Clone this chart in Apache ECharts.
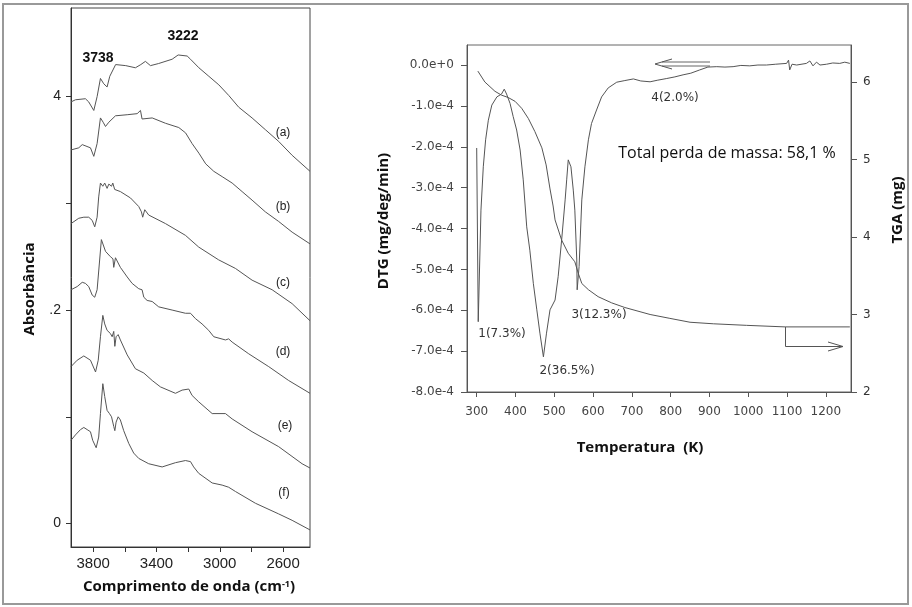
<!DOCTYPE html>
<html><head><meta charset="utf-8">
<script src="https://cdn.jsdelivr.net/npm/echarts@6/dist/echarts.min.js"></script>
<style>html,body{margin:0;padding:0;background:#fff}#c{width:912px;height:607px}</style>
</head><body><div id="c"></div>
<script>
// ---- Left panel: IR spectra [wavenumber cm-1, absorbance] ----
const specA = [[3940,3.95],[3912,3.97],[3849,3.98],[3828,3.95],[3796,3.87],[3775,4.00],[3754,4.17],[3733,4.12],[3712,4.09],[3695,4.19],[3658,4.30],[3594,4.29],[3533,4.27],[3499,4.30],[3470,4.33],[3438,4.29],[3386,4.31],[3301,4.35],[3263,4.39],[3206,4.38],[3185,4.35],[3132,4.27],[3069,4.19],[3006,4.11],[2943,4.01],[2880,3.90],[2796,3.80],[2712,3.69],[2628,3.58],[2543,3.45],[2430,3.30]];
const specB = [[3940,3.50],[3891,3.52],[3869,3.55],[3817,3.52],[3796,3.44],[3775,3.56],[3754,3.80],[3737,3.76],[3722,3.72],[3701,3.76],[3659,3.82],[3585,3.83],[3522,3.84],[3501,3.87],[3491,3.79],[3427,3.80],[3343,3.75],[3259,3.71],[3216,3.66],[3175,3.56],[3132,3.47],[3089,3.37],[3038,3.30],[2985,3.25],[2922,3.19],[2859,3.11],[2796,3.03],[2712,2.92],[2628,2.83],[2543,2.73],[2430,2.62]];
const specC = [[3940,2.81],[3891,2.86],[3859,2.87],[3828,2.87],[3806,2.84],[3790,2.78],[3775,2.87],[3765,3.06],[3754,3.19],[3739,3.16],[3727,3.19],[3712,3.14],[3701,3.18],[3684,3.16],[3676,3.19],[3664,3.13],[3628,3.11],[3564,3.05],[3512,2.97],[3495,2.92],[3487,2.87],[3474,2.94],[3449,2.89],[3343,2.81],[3217,2.70],[3133,2.59],[3007,2.47],[2901,2.39],[2796,2.28],[2669,2.19],[2543,2.06],[2430,1.90]];
const specD = [[3940,2.19],[3901,2.22],[3869,2.26],[3849,2.25],[3828,2.22],[3806,2.14],[3790,2.12],[3775,2.19],[3748,2.66],[3722,2.55],[3691,2.50],[3675,2.48],[3670,2.40],[3659,2.49],[3628,2.40],[3585,2.31],[3554,2.25],[3512,2.20],[3491,2.19],[3480,2.12],[3459,2.09],[3427,2.08],[3386,2.03],[3301,2.00],[3217,1.97],[3185,1.97],[3154,1.92],[3112,1.87],[3070,1.81],[3038,1.75],[2964,1.72],[2944,1.73],[2922,1.70],[2817,1.59],[2691,1.47],[2565,1.34],[2430,1.22]];
const specE = [[3940,1.47],[3901,1.53],[3859,1.57],[3817,1.53],[3785,1.42],[3768,1.53],[3754,1.75],[3739,1.95],[3727,1.87],[3712,1.81],[3691,1.78],[3680,1.75],[3670,1.80],[3663,1.66],[3655,1.75],[3642,1.77],[3628,1.72],[3585,1.58],[3533,1.45],[3480,1.41],[3427,1.34],[3375,1.28],[3280,1.22],[3238,1.25],[3196,1.26],[3175,1.20],[3133,1.14],[3048,1.03],[2964,1.03],[2922,0.98],[2796,0.86],[2628,0.72],[2480,0.56],[2430,0.52]];
const specF = [[3940,0.78],[3912,0.83],[3880,0.88],[3859,0.90],[3838,0.88],[3817,0.86],[3803,0.78],[3781,0.71],[3765,0.81],[3754,1.03],[3739,1.31],[3727,1.19],[3712,1.06],[3697,1.03],[3684,1.00],[3670,0.91],[3663,0.87],[3655,0.95],[3642,1.00],[3628,0.97],[3607,0.87],[3575,0.75],[3544,0.66],[3512,0.61],[3449,0.56],[3364,0.53],[3280,0.57],[3217,0.59],[3185,0.58],[3165,0.53],[3133,0.47],[3048,0.38],[2985,0.36],[2944,0.34],[2901,0.30],[2775,0.19],[2628,0.09],[2543,0.03],[2430,-0.06]];
const irTicks = [2600,2800,3000,3200,3400,3600,3800];
const irLabels = [2600,3000,3400,3800];
const absTicks = [0,1,2,3,4];
const absLabels = [0,2,4];
const absLabelText = {0:'0',2:'.2',4:'4'};
const specNames = ['(a)','(b)','(c)','(d)','(e)','(f)'];
const peakLabels = ['3738','3222'];

// ---- Right panel: DTG [K, mg/deg/min] and TGA [K, mg] ----
const dtg = [[300,-2.03e-4],[304,-6.28e-4],[311,-3.55e-4],[317,-2.49e-4],[323,-1.83e-4],[330,-1.35e-4],[339,-0.98e-4],[352,-0.78e-4],[364,-0.71e-4],[371,-0.59e-4],[377,-0.71e-4],[386,-0.94e-4],[394,-1.26e-4],[403,-1.59e-4],[412,-2.08e-4],[420,-2.81e-4],[429,-3.96e-4],[437,-4.53e-4],[446,-5.34e-4],[455,-5.99e-4],[463,-6.56e-4],[472,-7.14e-4],[480,-6.56e-4],[489,-5.99e-4],[502,-5.75e-4],[510,-5.18e-4],[519,-4.28e-4],[528,-3.30e-4],[532,-2.81e-4],[536,-2.32e-4],[543,-2.49e-4],[549,-3.06e-4],[553,-3.55e-4],[558,-4.77e-4],[559,-5.50e-4],[564,-4.93e-4],[571,-3.30e-4],[579,-2.49e-4],[588,-1.83e-4],[596,-1.43e-4],[609,-1.10e-4],[622,-0.78e-4],[639,-0.56e-4],[661,-0.42e-4],[682,-0.38e-4],[704,-0.34e-4],[723,-0.39e-4],[747,-0.41e-4],[767,-0.37e-4],[790,-0.33e-4],[811,-0.29e-4],[832,-0.24e-4],[852,-0.20e-4],[875,-0.12e-4],[896,-0.05e-4],[919,-0.04e-4],[940,-0.05e-4],[961,-0.04e-4],[981,-0.01e-4],[1004,-0.02e-4],[1025,0],[1047,0],[1071,0.02e-4],[1099,0.04e-4],[1104,0.12e-4],[1107,-0.12e-4],[1113,0.02e-4],[1125,0],[1150,0.04e-4],[1159,0.10e-4],[1167,-0.02e-4],[1176,0.07e-4],[1185,0],[1202,0.02e-4],[1218,0.05e-4],[1236,0.04e-4],[1249,0.07e-4],[1262,0.04e-4]];
const tga = [[303,6.14],[321,6.00],[347,5.88],[364,5.83],[381,5.80],[399,5.75],[416,5.66],[433,5.53],[450,5.36],[468,5.15],[479,4.93],[489,4.62],[497,4.40],[502,4.22],[519,3.96],[536,3.79],[553,3.68],[562,3.53],[571,3.40],[588,3.32],[613,3.23],[648,3.15],[682,3.09],[747,3.00],[798,2.95],[850,2.90],[910,2.88],[996,2.86],[1095,2.84],[1262,2.84]];
const tempTicks = [300,400,500,600,700,800,900,1000,1100,1200];
const dtgTicks = [0,-1e-4,-2e-4,-3e-4,-4e-4,-5e-4,-6e-4,-7e-4,-8e-4];
const tgaTicks = [2,3,4,5,6];
const stepLabels = ['1(7.3%)','2(36.5%)','3(12.3%)','4(2.0%)'];
const totalText = 'Total perda de massa: 58,1 %';

const chart = echarts.init(document.getElementById('c'), null, {renderer:'canvas'});
const lineCol = '#555';
const mkLine = (data, xi, yi) => ({type:'line', data, xAxisIndex:xi, yAxisIndex:yi, showSymbol:false, symbol:'none', silent:true, animation:false, lineStyle:{width:1, color:lineCol}});
const axText = (size, fam, col) => ({fontSize:size, fontFamily:fam, color:col});
const plain = v => String(v);

const T = (x,y,text,font,fill,extra) => Object.assign({type:'text', x, y, silent:true, style:{text, font, fill, textAlign:'center', textVerticalAlign:'middle', align:'center', verticalAlign:'middle'}}, extra||{});
const titleFont = 'bold 15px "Open Sans"';
const dejavu = '12px "DejaVu Sans"';
const specLabelPos = [[283,133],[283,207],[283,283],[283,352],[285,426],[284,493]];

const graphics = [
  {type:'rect', silent:true, shape:{x:3, y:4, width:905, height:600}, style:{fill:'none', stroke:'#999', lineWidth:2}},
  T(98,58,peakLabels[0],'bold 14px "Liberation Sans"','#111'),
  T(183,36,peakLabels[1],'bold 14px "Liberation Sans"','#111'),
  ...specNames.map((s,i)=>T(specLabelPos[i][0],specLabelPos[i][1],s,'12px "Liberation Sans"','#222')),
  T(30,289,'Absorbância',titleFont,'#111',{rotation:Math.PI/2}),
  {type:'text', x:189, y:587, silent:true, style:{text:'{a|Comprimento de onda (cm}{s|-1}{a|)}', align:'center', verticalAlign:'middle', textAlign:'center', textVerticalAlign:'middle', rich:{a:{font:titleFont, fill:'#111'}, s:{font:'bold 9px "Open Sans"', fill:'#111', verticalAlign:'top'}}}},
  T(384,221,'DTG (mg/deg/min)',titleFont,'#111',{rotation:Math.PI/2}),
  T(898,210,'TGA (mg)',titleFont,'#111',{rotation:Math.PI/2}),
  T(640,448,'Temperatura  (K)',titleFont,'#111'),
  T(502,334,stepLabels[0],dejavu,'#333'),
  T(567,371,stepLabels[1],dejavu,'#333'),
  T(599,315,stepLabels[2],dejavu,'#333'),
  T(675,98,stepLabels[3],dejavu,'#333'),
  T(727,153,totalText,'16px "Open Sans"','#111'),
  // arrows
  {type:'polyline', silent:true, shape:{points:[[662,62],[710,62]]}, style:{stroke:'#666', lineWidth:1, fill:'none'}},
  {type:'polyline', silent:true, shape:{points:[[662,66],[710,66]]}, style:{stroke:'#666', lineWidth:1, fill:'none'}},
  {type:'polyline', silent:true, shape:{points:[[672,59],[655,64],[672,69]]}, style:{stroke:'#555', lineWidth:1, fill:'none'}},
  {type:'polyline', silent:true, shape:{points:[[785.5,327],[785.5,346.5],[843,346.5]]}, style:{stroke:'#555', lineWidth:1, fill:'none'}},
  {type:'polyline', silent:true, shape:{points:[[828,342],[843,346.5],[828,351]]}, style:{stroke:'#555', lineWidth:1, fill:'none'}}
];

chart.setOption({
  animation:false,
  backgroundColor:'#fff',
  grid:[
    {left:71, top:8, width:239, height:539, show:true, borderColor:'#444', borderWidth:1, backgroundColor:'transparent'},
    {left:467, top:45, width:384, height:347, show:true, borderColor:'#666', borderWidth:1, backgroundColor:'transparent'}
  ],
  xAxis:[
    {gridIndex:0, type:'value', inverse:true, min:2430, max:3940,
     axisLine:{show:true, onZero:false, lineStyle:{color:'#333', width:1}},
     axisTick:{show:true, customValues:irTicks, length:5, lineStyle:{color:'#333'}},
     axisLabel:{customValues:irLabels, margin:9, formatter:plain, ...axText(15,'Liberation Sans','#222')},
     splitLine:{show:false}},
    {gridIndex:1, type:'value', min:275, max:1265,
     axisLine:{show:true, onZero:false, lineStyle:{color:'#555', width:1}},
     axisTick:{show:true, customValues:tempTicks, length:5, lineStyle:{color:'#555'}},
     axisLabel:{customValues:tempTicks, margin:14, formatter:plain, ...axText(12,'DejaVu Sans','#444')},
     splitLine:{show:false}}
  ],
  yAxis:[
    {gridIndex:0, type:'value', min:-0.22, max:4.83,
     axisLine:{show:true, onZero:false, lineStyle:{color:'#333', width:1}},
     axisTick:{show:true, customValues:absTicks, length:5, lineStyle:{color:'#333'}},
     axisLabel:{customValues:absLabels, margin:10, formatter:v=>absLabelText[Math.round(v)], ...axText(14,'Liberation Sans','#222')},
     splitLine:{show:false}},
    {gridIndex:1, type:'value', position:'left', min:-8e-4, max:0.49e-4,
     axisLine:{show:true, onZero:false, lineStyle:{color:'#555', width:1}},
     axisTick:{show:true, customValues:dtgTicks, length:6, lineStyle:{color:'#555'}},
     axisLabel:{customValues:dtgTicks, margin:13, formatter:v=>Math.abs(v)<1e-9?'0.0e+0':(v*1e4).toFixed(1)+'e-4', ...axText(12,'DejaVu Sans','#444')},
     splitLine:{show:false}},
    {gridIndex:1, type:'value', position:'right', min:2, max:6.477,
     axisLine:{show:true, onZero:false, lineStyle:{color:'#555', width:1}},
     axisTick:{show:true, customValues:tgaTicks, length:6, lineStyle:{color:'#555'}},
     axisLabel:{customValues:tgaTicks, margin:12, formatter:plain, ...axText(12,'DejaVu Sans','#333')},
     splitLine:{show:false}}
  ],
  series:[
    mkLine(specA,0,0), mkLine(specB,0,0), mkLine(specC,0,0), mkLine(specD,0,0), mkLine(specE,0,0), mkLine(specF,0,0),
    mkLine(dtg,1,1), mkLine(tga,1,2)
  ],
  graphic:{elements:graphics}
});
</script></body></html>
